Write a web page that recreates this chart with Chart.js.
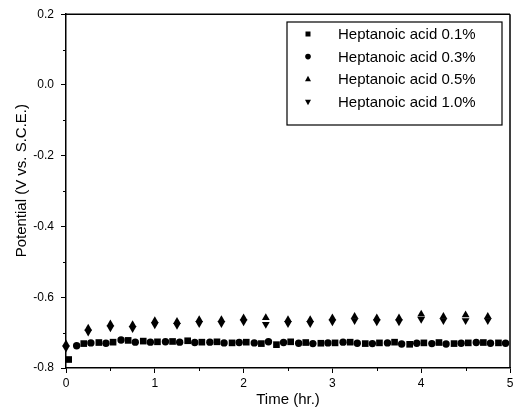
<!DOCTYPE html>
<html>
<head>
<meta charset="utf-8">
<script src="https://cdn.jsdelivr.net/npm/chart.js@4/dist/chart.umd.min.js"></script>
<style>
  html, body { margin: 0; padding: 0; background: #fff; }
  canvas { display: block; }
</style>
</head>
<body>
<canvas id="chart" width="525" height="409"></canvas>
<script>
// Series labels
const seriesNames = ['Heptanoic acid 0.1%', 'Heptanoic acid 0.3%', 'Heptanoic acid 0.5%', 'Heptanoic acid 1.0%'];

// 0.1% (squares)
const timeA = [0.03, 0.2, 0.37, 0.53, 0.7, 0.87, 1.03, 1.2, 1.37, 1.53, 1.7, 1.87, 2.03, 2.2, 2.37,
  2.53, 2.7, 2.87, 3.03, 3.2, 3.37, 3.53, 3.7, 3.87, 4.03, 4.2, 4.37, 4.53, 4.7, 4.87];
const potA = [-0.776, -0.731, -0.728, -0.727, -0.722, -0.724, -0.726, -0.725, -0.723, -0.727, -0.726, -0.729, -0.727, -0.731, -0.734,
  -0.726, -0.728, -0.730, -0.729, -0.727, -0.731, -0.729, -0.727, -0.733, -0.729, -0.728, -0.731, -0.729, -0.728, -0.729];

// 0.3% (circles)
const timeB = [0.12, 0.28, 0.45, 0.62, 0.78, 0.95, 1.12, 1.28, 1.45, 1.62, 1.78, 1.95, 2.12, 2.28, 2.45,
  2.62, 2.78, 2.95, 3.12, 3.28, 3.45, 3.62, 3.78, 3.95, 4.12, 4.28, 4.45, 4.62, 4.78, 4.95];
const potB = [-0.737, -0.729, -0.730, -0.721, -0.727, -0.727, -0.726, -0.727, -0.728, -0.727, -0.729, -0.728, -0.729, -0.726, -0.728,
  -0.730, -0.731, -0.729, -0.727, -0.730, -0.731, -0.729, -0.732, -0.730, -0.731, -0.732, -0.730, -0.728, -0.730, -0.730];

// 0.5% (up triangles) and 1.0% (down triangles), every 15 min
const timeC = [0, 0.25, 0.5, 0.75, 1, 1.25, 1.5, 1.75, 2, 2.25, 2.5, 2.75, 3, 3.25, 3.5, 3.75, 4, 4.25, 4.5, 4.75];
const potC = [-0.7325, -0.6875, -0.6755, -0.6775, -0.6665, -0.6685, -0.6635, -0.6635, -0.6585, -0.658, -0.6635, -0.6635, -0.6585,
  -0.6545, -0.6585, -0.6585, -0.648, -0.6545, -0.650, -0.6545];
const potD = [-0.7435, -0.6985, -0.6865, -0.6885, -0.6775, -0.6795, -0.6745, -0.6745, -0.6695, -0.676, -0.6745, -0.6745, -0.6695,
  -0.6655, -0.6695, -0.6695, -0.662, -0.6655, -0.666, -0.6655];

const FONT = '"Liberation Sans", Arial, Helvetica, sans-serif';
const pts = (xs, ys) => xs.map((x, i) => ({ x: x, y: ys[i] }));

// small minor ticks + top/right frame
const framePlugin = {
  id: 'frame',
  afterDraw(chart) {
    const { ctx, chartArea: a, scales } = chart;
    ctx.save();
    ctx.strokeStyle = '#000';
    ctx.lineWidth = 1.5;
    ctx.beginPath();
    ctx.moveTo(a.left, a.top); ctx.lineTo(a.right, a.top);
    ctx.moveTo(a.right, a.top); ctx.lineTo(a.right, a.bottom);
    ctx.stroke();
    ctx.lineWidth = 1;
    ctx.beginPath();
    for (let v = -0.7; v < 0.2; v += 0.2) {
      const y = Math.round(scales.y.getPixelForValue(v)) + 0.5;
      ctx.moveTo(a.left - 3, y); ctx.lineTo(a.left, y);
    }
    for (let v = 0.5; v < 5; v += 1) {
      const x = Math.round(scales.x.getPixelForValue(v)) + 0.5;
      ctx.moveTo(x, a.bottom); ctx.lineTo(x, a.bottom + 3);
    }
    ctx.stroke();
    ctx.restore();
  }
};

// legend box inside the plot
const legendPlugin = {
  id: 'boxLegend',
  afterDraw(chart) {
    const { ctx } = chart;
    ctx.save();
    ctx.strokeStyle = '#000';
    ctx.lineWidth = 1.2;
    ctx.strokeRect(287, 22, 215, 103);
    ctx.fillStyle = '#000';
    ctx.font = '15px ' + FONT;
    ctx.textBaseline = 'middle';
    chart.data.datasets.forEach((ds, i) => {
      const y = 34 + i * 22.6;
      const x = 308;
      ctx.beginPath();
      if (i === 0) {
        ctx.rect(x - 2.5, y - 2.5, 5, 5);
      } else if (i === 1) {
        ctx.arc(x, y, 2.8, 0, Math.PI * 2);
      } else if (i === 2) {
        ctx.moveTo(x, y - 3.5); ctx.lineTo(x + 3, y + 2); ctx.lineTo(x - 3, y + 2);
      } else {
        ctx.moveTo(x, y + 3.5); ctx.lineTo(x + 3, y - 2); ctx.lineTo(x - 3, y - 2);
      }
      ctx.closePath();
      ctx.fill();
      ctx.fillText(ds.label, 338, y + 1);
    });
    ctx.restore();
  }
};

const ctx = document.getElementById('chart');
const chart = new Chart(ctx, {
  type: 'scatter',
  data: {
    datasets: [
      { label: seriesNames[0], data: pts(timeA, potA), pointStyle: 'rect', pointRadius: 4.7 },
      { label: seriesNames[1], data: pts(timeB, potB), pointStyle: 'circle', pointRadius: 3.7 },
      { label: seriesNames[2], data: pts(timeC, potC), pointStyle: 'triangle', pointRadius: 4.5 },
      { label: seriesNames[3], data: pts(timeC, potD), pointStyle: 'triangle', pointRotation: 180, pointRadius: 4.5 }
    ].map(d => Object.assign({
      backgroundColor: '#000', borderColor: '#000', borderWidth: 0, showLine: false, clip: false
    }, d))
  },
  options: {
    responsive: false,
    animation: false,
    layout: { padding: { top: 14, right: 15, left: 0, bottom: 0 } },
    plugins: { legend: { display: false }, tooltip: { enabled: false } },
    scales: {
      x: {
        type: 'linear', min: 0, max: 5,
        afterFit: s => { s.height = 41; },
        ticks: { stepSize: 1, color: '#000', padding: 3, font: { family: FONT, size: 12 } },
        grid: { drawOnChartArea: false, color: '#000', tickLength: 5 },
        border: { color: '#000', width: 1.5 },
        title: { display: true, text: 'Time (hr.)', color: '#000', padding: 0, font: { family: FONT, size: 15 } }
      },
      y: {
        type: 'linear', min: -0.8, max: 0.2,
        afterFit: s => { s.width = 66; },
        ticks: { stepSize: 0.2, color: '#000', padding: 7, font: { family: FONT, size: 12 },
          callback: v => v.toFixed(1) },
        grid: { drawOnChartArea: false, color: '#000', tickLength: 5 },
        border: { color: '#000', width: 1.5 },
        title: { display: true, text: '     Potential (V vs. S.C.E.)', color: '#000', padding: { top: 13, bottom: 13 },
          font: { family: FONT, size: 15 } }
      }
    }
  },
  plugins: [framePlugin, legendPlugin]
});
</script>
</body>
</html>
